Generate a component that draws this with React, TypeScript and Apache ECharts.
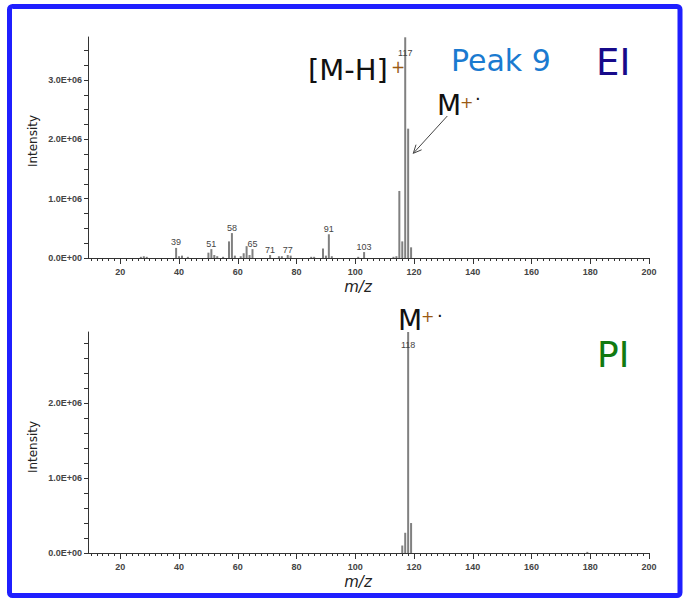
import React, { useEffect, useRef } from "react";
import * as echarts from "echarts";

// EI spectrum (top)
const eiMz = [27, 28, 29, 39, 40, 41, 43, 50, 51, 52, 53, 55, 57, 58, 59, 61, 62, 63, 64, 65, 71, 74, 75, 77, 78, 85, 86, 89, 90, 91, 92, 101, 103, 113, 114, 115, 116, 117, 118, 119];
const eiInt = [0.02e6, 0.03e6, 0.02e6, 0.17e6, 0.03e6, 0.04e6, 0.02e6, 0.09e6, 0.15e6, 0.05e6, 0.03e6, 0.02e6, 0.28e6, 0.42e6, 0.04e6, 0.03e6, 0.08e6, 0.2e6, 0.05e6, 0.15e6, 0.05e6, 0.03e6, 0.03e6, 0.05e6, 0.04e6, 0.02e6, 0.02e6, 0.16e6, 0.04e6, 0.4e6, 0.03e6, 0.02e6, 0.1e6, 0.02e6, 0.03e6, 1.13e6, 0.28e6, 3.72e6, 2.18e6, 0.18e6];
const eiLabeled = [39, 51, 58, 65, 71, 77, 91, 103];
const eiTopLabeled = [117];

// PI spectrum (bottom)
const piMz = [116, 117, 118, 119, 179];
const piInt = [0.1e6, 0.27e6, 2.95e6, 0.4e6, 0.015e6];
const piTopLabeled = [118];

// axes
const xMin = 9;
const xMax = 200;
const xMajor = [20, 40, 60, 80, 100, 120, 140, 160, 180, 200];
const xMinor = Array.from({ length: 96 }, (_, i) => 10 + i * 2);
const eiYMax = 3725000;
const piYMax = 2950000;

const labelFont = "'Liberation Sans', Arial, sans-serif";
const axisColor = "#333";

function fmtY(v: number) {
  if (Math.abs(v % 1e6) > 1) return "";
  if (v === 0) return "0.0E+00";
  return (v / 1e6).toFixed(1) + "E+06";
}

function xMain(grid: number) {
  return {
    type: "value",
    gridIndex: grid,
    min: xMin,
    max: xMax,
    position: "bottom",
    axisLine: { show: true, onZero: false, lineStyle: { color: axisColor, width: 1 } },
    axisTick: { show: true, customValues: xMinor, length: 3, lineStyle: { color: axisColor } },
    axisLabel: {
      show: true,
      customValues: xMajor,
      margin: 9,
      fontSize: 9,
      fontWeight: "bold",
      color: "#444",
      fontFamily: labelFont,
    },
    splitLine: { show: false },
  };
}
function xOverlay(grid: number) {
  return {
    type: "value",
    gridIndex: grid,
    min: xMin,
    max: xMax,
    position: "bottom",
    axisLine: { show: false },
    axisTick: { show: true, customValues: xMajor, length: 6, lineStyle: { color: axisColor } },
    axisLabel: { show: false },
    splitLine: { show: false },
  };
}
function yAx(grid: number, max: number, interval: number) {
  return {
    type: "value",
    gridIndex: grid,
    min: 0,
    max,
    interval,
    axisLine: { show: true, lineStyle: { color: axisColor, width: 1 } },
    axisTick: { show: true, length: 4, lineStyle: { color: axisColor } },
    axisLabel: {
      formatter: fmtY,
      margin: 6,
      fontSize: 9,
      fontWeight: "bold",
      color: "#444",
      fontFamily: labelFont,
      showMaxLabel: false,
    },
    splitLine: { show: false },
  };
}

const peakLabel = {
  show: true,
  position: "top",
  distance: 1,
  fontSize: 9,
  color: "#444",
  fontFamily: labelFont,
  formatter: (p: any) => String(p.value[0]),
};
const insideLabel = (dist: number) => ({
  show: true,
  position: "insideTop",
  distance: dist,
  fontSize: 9,
  color: "#444",
  fontFamily: labelFont,
  formatter: (p: any) => String(p.value[0]),
});

function buildData(mz: number[], ints: number[], labeled: number[], topLabeled: number[], dist: number) {
  return mz.map((m, i) => {
    const item: any = { value: [m, ints[i]] };
    if (labeled.includes(m)) item.label = peakLabel;
    if (topLabeled.includes(m)) item.label = insideLabel(dist);
    return item;
  });
}

const big = (size: number) => `normal ${size}px "DejaVu Sans", Verdana, sans-serif`;

function txt(text: string, x: number, y: number, size: number, fill: string, extra: any = {}) {
  return {
    type: "text",
    x,
    y,
    z: 20,
    style: { text, fill, font: big(size), align: "left", verticalAlign: "middle", ...extra },
  };
}

export default function App() {
  const ref = useRef<HTMLDivElement>(null);
  useEffect(() => {
    if (!ref.current) return;
    const chart = echarts.init(ref.current, null, { renderer: "svg" });
    const option: any = {
      animation: false,
      backgroundColor: "#fff",
      grid: [
        { left: 88, top: 37, width: 561, height: 221 },
        { left: 88, top: 332, width: 561, height: 221 },
      ],
      xAxis: [xMain(0), xOverlay(0), xMain(1), xOverlay(1)],
      yAxis: [yAx(0, eiYMax, 250000), yAx(1, piYMax, 200000)],
      series: [
        {
          type: "bar",
          xAxisIndex: 0,
          yAxisIndex: 0,
          barWidth: 2,
          itemStyle: { color: "#808080" },
          data: buildData(eiMz, eiInt, eiLabeled, eiTopLabeled, 11),
        },
        {
          type: "bar",
          xAxisIndex: 2,
          yAxisIndex: 1,
          barWidth: 2,
          itemStyle: { color: "#808080" },
          data: buildData(piMz, piInt, [], piTopLabeled, 8),
        },
      ],
      graphic: [
        {
          type: "rect",
          z: 30,
          shape: { x: 9.5, y: 6.5, width: 670.5, height: 589, r: 3 },
          style: { fill: "none", stroke: "#1f1fff", lineWidth: 5 },
        },
        // top annotations
        txt("[M-H]", 308, 70, 29, "#111"),
        txt("+", 391, 67, 17, "#9a5a14"),
        txt("Peak 9", 451, 60, 30, "#1a7ad0"),
        txt("EI", 596, 62, 37, "#170a8a"),
        txt("M", 437, 105, 28, "#111"),
        txt("+", 460, 102, 16, "#9a5a14"),
        txt("·", 475, 98, 18, "#111"),
        {
          type: "line",
          z: 20,
          shape: { x1: 447.3, y1: 116, x2: 413.3, y2: 153.3 },
          style: { stroke: "#444", lineWidth: 1 },
        },
        {
          type: "polyline",
          z: 20,
          shape: { points: [[421.6, 149.8], [413.3, 153.3], [416, 144.7]] },
          style: { stroke: "#444", lineWidth: 1, fill: "none" },
        },
        // bottom annotations
        txt("M", 398, 320, 28, "#111"),
        txt("+", 421, 316, 16, "#9a5a14"),
        txt("·", 437, 315, 18, "#111"),
        txt("PI", 597, 354, 36, "#117a11"),
        // axis titles
        {
          type: "text",
          x: 32.5,
          y: 141,
          rotation: Math.PI / 2,
          z: 20,
          style: { text: "Intensity", fill: "#222", font: big(12), align: "center", verticalAlign: "middle" },
        },
        {
          type: "text",
          x: 32.5,
          y: 447,
          rotation: Math.PI / 2,
          z: 20,
          style: { text: "Intensity", fill: "#222", font: big(12), align: "center", verticalAlign: "middle" },
        },
        {
          type: "text",
          x: 358,
          y: 287,
          z: 20,
          style: { text: "m/z", fill: "#222", font: `italic 15px "DejaVu Sans", Verdana, sans-serif`, align: "center", verticalAlign: "middle" },
        },
        {
          type: "text",
          x: 358,
          y: 582,
          z: 20,
          style: { text: "m/z", fill: "#222", font: `italic 15px "DejaVu Sans", Verdana, sans-serif`, align: "center", verticalAlign: "middle" },
        },
      ],
    };
    chart.setOption(option);
    return () => chart.dispose();
  }, []);
  return (
    <div
      ref={ref}
      style={{ position: "fixed", left: 0, top: 0, width: 688, height: 598, background: "#fff" }}
    />
  );
}
